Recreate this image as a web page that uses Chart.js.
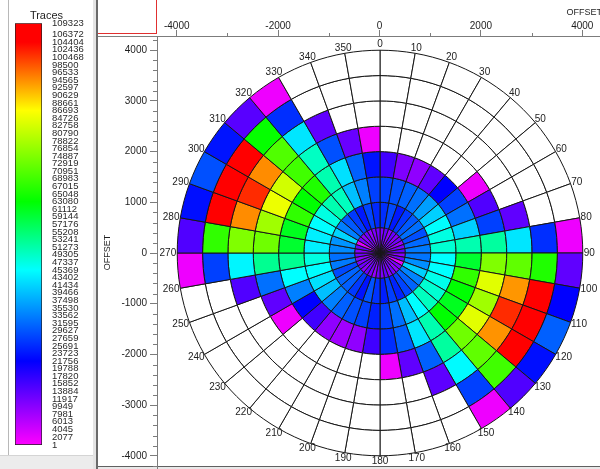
<!DOCTYPE html>
<html>
<head>
<meta charset="utf-8">
<script src="https://cdn.jsdelivr.net/npm/chart.js@4.4.1/dist/chart.umd.min.js"></script>
<style>
  html, body { margin: 0; padding: 0; width: 600px; height: 469px; overflow: hidden; background: #fff; }
  canvas { position: absolute; }
  .bar { position: absolute; }
</style>
</head>
<body>
<div class="bar" style="left:8px;top:0;width:1px;height:455px;background:#b8b8b8"></div>
<div class="bar" style="left:0;top:455px;width:93px;height:14px;background:#ececec;border-top:1px solid #d4d4d4"></div>
<div class="bar" style="left:93px;top:0;width:3px;height:469px;background:#e4e4e4"></div>
<div class="bar" style="left:96px;top:0;width:2px;height:469px;background:#6a6a6a"></div>
<div class="bar" style="left:98px;top:33px;width:59px;height:1px;background:#e03030"></div>
<div class="bar" style="left:156px;top:0;width:1px;height:34px;background:#e03030"></div>
<div class="bar" style="left:98px;top:36px;width:59px;height:1px;background:#808080"></div>
<div class="bar" style="left:98px;top:466px;width:502px;height:3px;background:#e8e8e8;border-top:1px solid #606060"></div>
<canvas id="legendChart" width="93" height="455" style="left:0;top:0"></canvas>
<canvas id="axesChart" width="503" height="469" style="left:99px;top:0"></canvas>
<canvas id="roseChart" style="left:0;top:0"></canvas>
<script>
// azimuth bins, 10 degrees each, clockwise from north
const azimuths = [0, 10, 20, 30, 40, 50, 60, 70, 80, 90, 100, 110, 120, 130, 140, 150, 160, 170,
  180, 190, 200, 210, 220, 230, 240, 250, 260, 270, 280, 290, 300, 310, 320, 330, 340, 350];
// outer edge of each offset ring
const offsetRings = [500, 1000, 1500, 2000, 2500, 3000, 3500, 4000];

// traces per bin, one array per offset ring, first value is the 0-10 sector. null = empty bin
const ring500 = [11000, 12500, 9500, 13000, 10500, 12000, 9000, 11500, 13500, 10000, 12000, 2000,
  11000, 9500, 12500, 10500, 13000, 11000, 12000, 9000, 11500, 13000, 10000, 12500,
  11000, 9500, 12000, 10500, 13000, 2500, 11500, 10000, 12500, 9500, 11000, 12000];
const ring1000 = [26000, 28500, 24000, 27000, 30000, 32000, 29000, 31500, 33000, 32500, 35000, 41000,
  34000, 31000, 28000, 25000, 27500, 24500, 26500, 29500, 23500, 27000, 30500, 31000,
  28500, 33000, 32000, 34500, 35500, 41500, 33500, 30000, 27000, 24000, 28000, 25500];
const ring1500 = [27700, 29200, 30600, 32100, 36500, 41000, 45400, 47400, 48500, 45400, 45400, 46800,
  48500, 49800, 45400, 39500, 32100, 27700, 24700, 27700, 29200, 30600, 33600, 39500,
  42600, 45400, 47400, 44000, 44000, 45400, 47400, 50900, 49800, 39500, 33600, 27700];
const ring2000 = [16300, 10900, 9500, 13600, 21800, 27700, 32100, 41000, 50900, 59800, 67500, 63000,
  60900, 63000, 50900, 43000, 30600, 26000, 16300, 9500, 8100, 9500, 16300, 21800,
  33600, 45400, 53000, 59800, 60900, 67500, 63000, 66000, 50900, 42600, 30600, 23500];
const ring2500 = [null, null, null, null, null, 1500, 14900, 27700, 52000, 74900, 83900, 77900,
  84000, 73400, 52000, 30600, 13600, 1500, null, null, null, null, null, 1500,
  13600, 32100, 53000, 73400, 77900, 85000, 82400, 69000, 49500, 29200, 12900, 1500];
const ring3000 = [null, null, null, null, null, null, null, 13600, 43000, 72000, 94000, 101400,
  94200, 72000, 45000, 13800, null, null, null, null, null, null, null, null,
  null, 14900, 44500, 74900, 94700, 101400, 94700, 70500, 43000, 13600, null, null];
const ring3500 = [null, null, null, null, null, null, null, null, 26000, 66000, 106000, 105000,
  106000, 69000, 27700, null, null, null, null, null, null, null, null, null,
  null, null, 27700, 67500, 106000, 105500, 106500, 63500, 26000, null, null, null];
const ring4000 = [null, null, null, null, null, null, null, null, 1500, 13600, 21800, 30600,
  23000, 14900, 1500, null, null, null, null, null, null, null, null, null,
  null, null, 1500, 14900, 23000, 29200, 23500, 14200, 1500, null, null, null];

const legendTicks = [109323, 106372, 104404, 102436, 100468, 98500, 96533, 94565, 92597, 90629,
  88661, 86693, 84726, 82758, 80790, 78822, 76854, 74887, 72919, 70951, 68983, 67015, 65048,
  63080, 61112, 59144, 57176, 55208, 53241, 51273, 49305, 47337, 45369, 43402, 41434, 39466,
  37498, 35530, 33562, 31595, 29627, 27659, 25691, 23723, 21756, 19788, 17820, 15852, 13884,
  11917, 9949, 7981, 6013, 4045, 2077, 1];
const xTicks = [-4000, -2000, 0, 2000, 4000];
const xMinorTicks = [-3000, -1000, 1000, 3000];
const yTicks = [-4000, -3000, -2000, -1000, 0, 1000, 2000, 3000, 4000];

const rings = [ring500, ring1000, ring1500, ring2000, ring2500, ring3000, ring3500, ring4000];

// colour table: magenta - blue - cyan - green - yellow - red
const hueStops = [[0, 300], [21756, 240], [45369, 180], [63080, 120], [86693, 60], [104404, 0], [109323, 0]];
function traceColor(v) {
  if (v == null) return '#ffffff';
  for (let i = 1; i < hueStops.length; i++) {
    if (v <= hueStops[i][0]) {
      const [v0, h0] = hueStops[i - 1], [v1, h1] = hueStops[i];
      return 'hsl(' + (h0 + (h1 - h0) * (v - v0) / (v1 - v0)).toFixed(1) + ',100%,50%)';
    }
  }
  return 'hsl(0,100%,50%)';
}

Chart.defaults.font.family = '"Liberation Sans", Arial, sans-serif';
Chart.defaults.color = '#1e1e1e';
Chart.defaults.animation = false;
Chart.defaults.responsive = false;
Chart.defaults.events = [];
Chart.defaults.plugins.legend.display = false;
Chart.defaults.plugins.tooltip.enabled = false;

const axisGray = '#7c7c7c';

// colour bar on the left
function barGradient(context) {
  const { ctx, chartArea, scales } = context.chart;
  if (!chartArea) return traceColor(0);
  const y = scales.y;
  const g = ctx.createLinearGradient(0, y.getPixelForValue(y.min), 0, y.getPixelForValue(y.max));
  hueStops.forEach(([v]) => {
    const t = Math.min(1, Math.max(0, (v - y.min) / (y.max - y.min)));
    g.addColorStop(t, traceColor(v));
  });
  return g;
}

new Chart(document.getElementById('legendChart'), {
  type: 'bar',
  data: {
    labels: [''],
    datasets: [{
      data: [[legendTicks[legendTicks.length - 1], legendTicks[0]]],
      yAxisID: 'y',
      backgroundColor: barGradient,
      borderColor: '#202020',
      borderWidth: 1,
      borderSkipped: false,
      barPercentage: 1,
      categoryPercentage: 1
    }]
  },
  options: {
    layout: { padding: { bottom: 10 } },
    plugins: {
      title: { display: true, text: 'Traces', color: '#1e1e1e', font: { size: 11, weight: 'normal' }, padding: { top: 9, bottom: 1 } }
    },
    scales: {
      x: { display: false },
      y: {
        position: 'right',
        min: legendTicks[legendTicks.length - 1],
        max: legendTicks[0],
        afterBuildTicks: s => { s.ticks = legendTicks.map(v => ({ value: v })); },
        afterFit: s => { s.width = 51; },
        ticks: { autoSkip: false, padding: 2, font: { size: 9.5 }, color: '#2a2a2a', callback: v => String(v) },
        grid: { display: false },
        border: { display: false }
      },
      // empty strip left of the bar
      gap: {
        type: 'linear',
        axis: 'y',
        position: 'left',
        afterFit: s => { s.width = 15; s.paddingTop = 0; s.paddingBottom = 0; },
        ticks: { display: false },
        grid: { display: false },
        border: { display: false }
      }
    }
  }
});

// short minor ticks on both offset axes
const minorTicks = {
  id: 'minorTicks',
  afterDraw(chart) {
    const { ctx, scales: { x, y } } = chart;
    ctx.save();
    ctx.strokeStyle = axisGray;
    ctx.lineWidth = 1;
    ctx.beginPath();
    xMinorTicks.forEach(v => {
      const px = Math.round(x.getPixelForValue(v)) + 0.5;
      ctx.moveTo(px, x.bottom);
      ctx.lineTo(px, x.bottom - 3);
    });
    for (let v = -4200; v <= 4200; v += 200) {
      if (v % 1000 === 0) continue;
      const py = Math.round(y.getPixelForValue(v)) + 0.5;
      ctx.moveTo(y.right, py);
      ctx.lineTo(y.right - 4, py);
    }
    ctx.stroke();
    ctx.restore();
  }
};

const axesChart = new Chart(document.getElementById('axesChart'), {
  type: 'scatter',
  data: { datasets: [] },
  options: {
    layout: { padding: 0 },
    scales: {
      x: {
        type: 'linear',
        position: 'top',
        min: -4389,
        max: 4389,
        afterBuildTicks: s => { s.ticks = xTicks.map(v => ({ value: v })); },
        afterFit: s => { s.height = 36; s.paddingLeft = 0; s.paddingRight = 0; },
        ticks: { autoSkip: false, maxRotation: 0, padding: -2, font: { size: 10 }, callback: v => String(v) },
        grid: { drawOnChartArea: false, tickLength: 6, tickColor: axisGray },
        border: { color: axisGray },
        title: { display: true, text: 'OFFSET', align: 'end', font: { size: 9 }, padding: { top: 7, bottom: 0 } }
      },
      y: {
        type: 'linear',
        position: 'left',
        min: -4260,
        max: 4280,
        afterBuildTicks: s => { s.ticks = yTicks.map(v => ({ value: v })); },
        afterFit: s => { s.width = 58; s.paddingTop = 0; s.paddingBottom = 0; },
        ticks: { autoSkip: false, padding: 3, font: { size: 10 }, callback: v => String(v) },
        grid: { drawOnChartArea: false, tickLength: 7, tickColor: axisGray },
        border: { color: axisGray },
        title: { display: true, text: 'OFFSET', font: { size: 9 }, padding: { top: 3, bottom: 0 } }
      }
    }
  },
  plugins: [minorTicks]
});

// rose diagram: one doughnut ring per offset bin, placed on the offset axes
const xs = axesChart.scales.x, ys = axesChart.scales.y;
const canvasLeft = 99;
const cx = canvasLeft + xs.getPixelForValue(0);
const cy = ys.getPixelForValue(0);
const outerR = xs.getPixelForValue(offsetRings[offsetRings.length - 1]) - xs.getPixelForValue(0);
const size = 2 * Math.ceil(outerR + 32);
const roseCanvas = document.getElementById('roseChart');
roseCanvas.width = size;
roseCanvas.height = size;
roseCanvas.style.left = Math.round(cx - size / 2) + 'px';
roseCanvas.style.top = Math.round(cy - size / 2) + 'px';

const azimuthLabels = {
  id: 'azimuthLabels',
  afterDraw(chart) {
    const arc = chart.getDatasetMeta(0).data[0];
    const { ctx } = chart;
    const r = arc.outerRadius + 1, h = 9;
    ctx.save();
    ctx.font = '10px "Liberation Sans", Arial, sans-serif';
    ctx.fillStyle = '#222';
    ctx.textAlign = 'left';
    ctx.textBaseline = 'middle';
    azimuths.forEach(a => {
      const rad = a * Math.PI / 180, s = Math.sin(rad), c = Math.cos(rad);
      const ex = arc.x + r * s, ey = arc.y - r * c;
      const w = ctx.measureText(String(a)).width;
      ctx.fillText(String(a), ex - w * (0.5 - 0.5 * s), ey - h * (0.5 + 0.5 * c) + h / 2);
    });
    ctx.restore();
  }
};

new Chart(roseCanvas, {
  type: 'doughnut',
  data: {
    labels: azimuths,
    datasets: rings.slice().reverse().map(vals => ({
      data: vals.map(() => 1),
      backgroundColor: vals.map(traceColor),
      borderColor: '#161616',
      borderWidth: 1
    }))
  },
  options: {
    radius: outerR,
    cutout: 0,
    layout: { padding: 0 }
  },
  plugins: [azimuthLabels]
});
</script>
</body>
</html>
